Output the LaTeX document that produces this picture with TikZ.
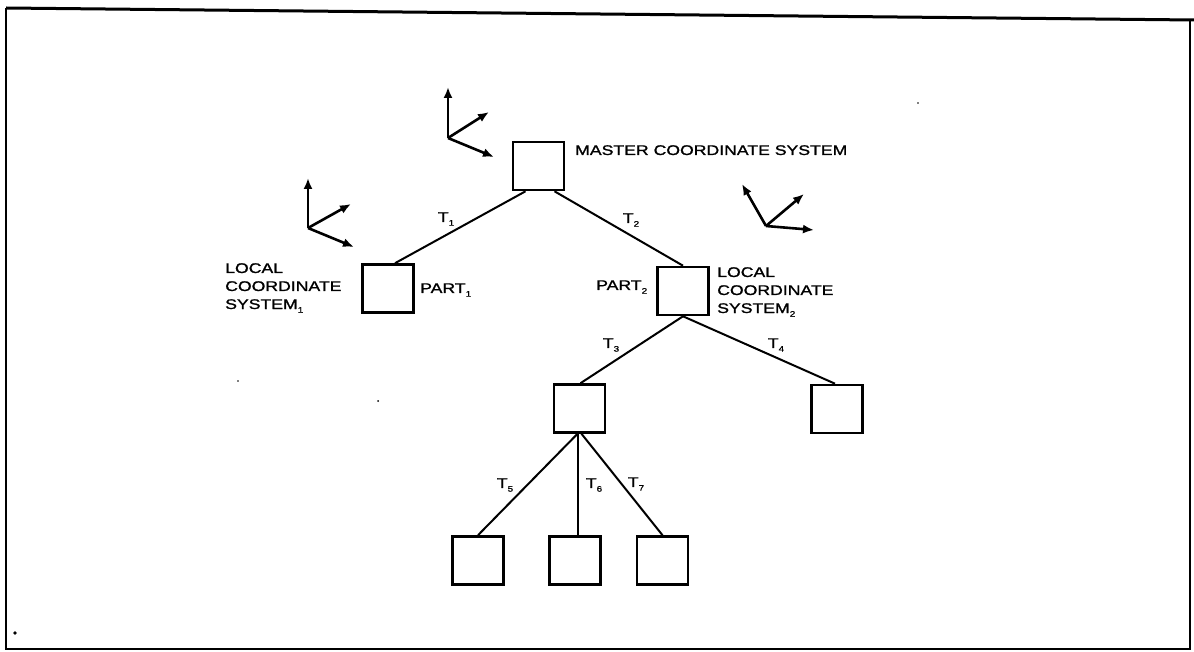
\documentclass[tikz,border=0pt]{standalone}
\usepackage{fontspec}
\setmainfont{Liberation Sans}
\newfontfamily\labfont[FakeStretch=1.26,FakeBold=1.3]{Liberation Sans}
\usetikzlibrary{arrows.meta,calc}
\newcommand{\sbs}[1]{\raisebox{-0.5ex}{\fontsize{8}{8}\selectfont #1}}
\tikzset{
  box/.style={draw, line width=2.6pt, minimum width=51pt, minimum height=48pt, inner sep=0pt},
  conn/.style={line width=2pt},
  axis/.style={line width=2.6pt, -{Latex[length=11pt,width=9pt]}},
  lab/.style={font=\labfont\fontsize{14}{18}\selectfont, inner sep=0pt, anchor=base west},
  tlab/.style={font=\labfont\fontsize{14}{16}\selectfont, inner sep=0pt},
  frame/.style={line width=1.8pt}
}
\begin{document}
\begin{tikzpicture}[x=1pt,y=-1pt]
\useasboundingbox (0,0) rectangle (1194,652);
% frame
\coordinate (f1) at (6,8);
\coordinate (f2) at (1194,20);
\coordinate (f3) at (1190,20);
\coordinate (f4) at (1190,649);
\coordinate (f5) at (6,649);
\draw[line width=3pt] (f1) -- (f2);
\draw[frame] (f1) -- (f5) -- (f4) -- (f3);
\fill (15,633) circle (1.8pt);
\fill (918,103) circle (0.9pt);
\fill (378,401) circle (1pt);
\fill (238,381) circle (0.9pt);
% boxes
\node[box] (master) at (538.5,166) {};
\node[box] (p1) at (388,288.5) {};
\node[box] (p2) at (683,291) {};
\node[box] (n3) at (579.5,408.5) {};
\node[box] (n4) at (837,409) {};
\node[box] (b5) at (478,560.5) {};
\node[box] (b6) at (575,560.5) {};
\node[box] (b7) at (662.5,560.5) {};
% connectors
\draw[conn] ([xshift=-13pt]master.south) -- ([xshift=7pt]p1.north);
\draw[conn] ([xshift=16pt]master.south) -- (p2.north);
\draw[conn] (p2.south) -- ([xshift=1pt]n3.north);
\draw[conn] (p2.south) -- ([xshift=-2pt]n4.north);
\draw[conn] ([xshift=-2pt]n3.south) -- (b5.north);
\draw[conn] ([xshift=-1.5pt]n3.south) -- ([xshift=3pt]b6.north);
\draw[conn] ([xshift=2pt]n3.south) -- (b7.north);
% transformation labels
\node[tlab] (t1) at (446,219) {T\sbs{1}};
\node[tlab] (t2) at (631,220) {T\sbs{2}};
\node[tlab] (t3) at (611,345) {T\sbs{3}};
\node[tlab] (t4) at (776,345) {T\sbs{4}};
\node[tlab] (t5) at (505,485) {T\sbs{5}};
\node[tlab] (t6) at (594,485) {T\sbs{6}};
\node[tlab] (t7) at (636,484) {T\sbs{7}};
% text labels
\node[lab] (mtext) at (575,155) {MASTER COORDINATE SYSTEM};
\node[lab] (l1a) at (225,273) {LOCAL};
\node[lab] (l1b) at (225,291) {COORDINATE};
\node[lab] (l1c) at (225,309) {SYSTEM\sbs{1}};
\node[lab] (part1) at (420,293) {PART\sbs{1}};
\node[lab] (part2) at (596,290) {PART\sbs{2}};
\node[lab] (l2a) at (717,277) {LOCAL};
\node[lab] (l2b) at (717,295) {COORDINATE};
\node[lab] (l2c) at (717,313) {SYSTEM\sbs{2}};
% coordinate triads
\coordinate (o1) at (448,138);
\coordinate (o1a) at (448,87);
\coordinate (o1b) at (489,112);
\coordinate (o1c) at (494,157);
\draw[axis] (o1) -- (o1a);
\draw[axis] (o1) -- (o1b);
\draw[axis] (o1) -- (o1c);
\coordinate (o2) at (308,228);
\coordinate (o2a) at (308,178);
\coordinate (o2b) at (351,204);
\coordinate (o2c) at (354,247);
\draw[axis] (o2) -- (o2a);
\draw[axis] (o2) -- (o2b);
\draw[axis] (o2) -- (o2c);
\coordinate (o3) at (766,226);
\coordinate (o3a) at (742,184);
\coordinate (o3b) at (804,194);
\coordinate (o3c) at (814,230);
\draw[axis] (o3) -- (o3a);
\draw[axis] (o3) -- (o3b);
\draw[axis] (o3) -- (o3c);
\end{tikzpicture}
\end{document}
